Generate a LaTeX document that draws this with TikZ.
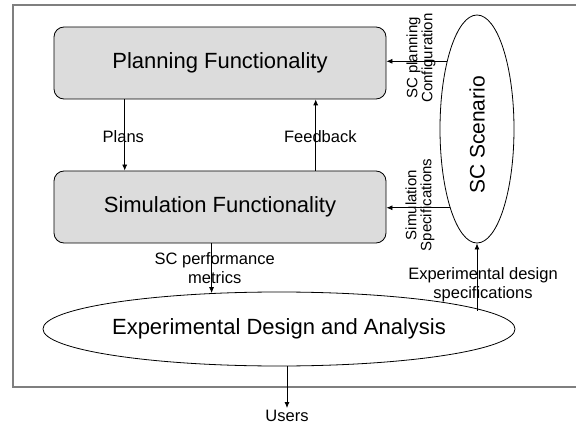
\documentclass[tikz,border=0pt]{standalone}
\usepackage{fontspec}
\setmainfont{Liberation Sans}
\usetikzlibrary{arrows.meta,shapes.geometric}
\definecolor{boxfill}{HTML}{DCDCDC}
\definecolor{framegray}{HTML}{7F7F7F}
\begin{document}
\begin{tikzpicture}[x=1pt,y=-1pt,
  arr/.style={draw=black,line width=0.8pt,-{Latex[length=6pt,width=5pt]}},
  funcbox/.style={draw=black,line width=0.8pt,fill=boxfill,rounded corners=10pt,
    minimum width=332pt,minimum height=72pt,font=\fontsize{22}{26}\selectfont},
  oval/.style={ellipse,draw=black,line width=0.8pt,inner sep=0pt},
  lbl/.style={font=\fontsize{16.5}{19.5}\selectfont,align=center,inner sep=0pt},
  vlbl/.style={font=\fontsize{15}{15}\selectfont,align=center,inner sep=0pt,rotate=90}]
\useasboundingbox (0,0) rectangle (576,425);
% outer frame (its right side runs past the page edge)
\draw[framegray,line width=1.3pt] (13,5) rectangle (580,387);

% main blocks
\node[funcbox] (plan) at (220,63) {Planning Functionality};
\node[funcbox] (sim) at (220,207) {Simulation Functionality};
\node[oval,minimum width=74pt,minimum height=228pt,font=\fontsize{21}{25}\selectfont]
  (scen) at (477,129) {\rotatebox{90}{SC Scenario\hspace*{12pt}}};
\node[oval,minimum width=456pt,minimum height=74pt,font=\fontsize{22}{26}\selectfont]
  (exp) at (279,329) {Experimental Design and Analysis};
\node[lbl] (users) at (287,416) {Users};

% connector labels
\node[lbl] (plans) at (123.3,136.7) {Plans};
\node[lbl] (fb) at (320.3,136.7) {Feedback};
\node[lbl] (perf) at (214.7,268) {SC performance\\metrics};
\node[lbl] (eds) at (483,284.5) {Experimental design\\specifications};
\node[vlbl] (cfg) at (421,58) {SC planning\\Configuration};
\node[vlbl] (sspec) at (420,205) {Simulation\\Specifications};

% connectors
\coordinate (px) at (124.7,0);
\coordinate (fx) at (315.7,0);
\draw[arr] (plan.south -| px) -- (sim.north -| px);
\draw[arr] (sim.north -| fx) -- (plan.south -| fx);
\draw[arr] (scen.114) -- (scen.114 -| plan.east);
\draw[arr] (scen.251) -- (scen.251 -| sim.east);
\draw[arr] (sim.south -| exp.152) -- (exp.152);
\draw[arr] (scen.south |- exp.5) -- (scen.south);
\draw[arr,shorten >=2pt] (exp.south -| users) -- (users.north);
\end{tikzpicture}
\end{document}
